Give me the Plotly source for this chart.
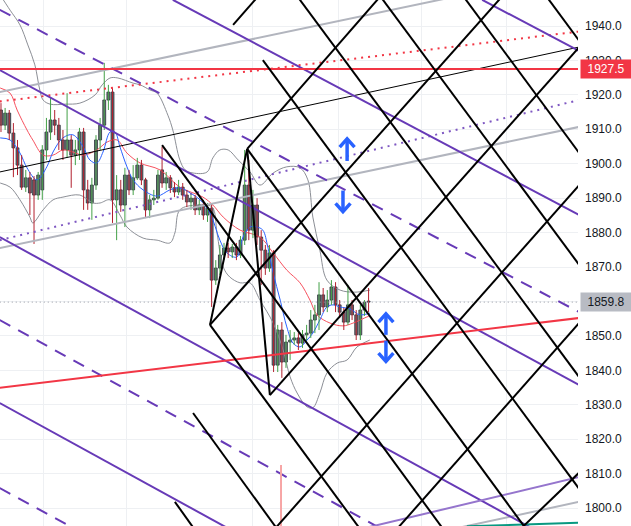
import plotly.graph_objects as go

# ---------------- candle data (bar index 0..89) ----------------
opens = [1915.6,1911.2,1914.7,1908.9,1904.6,1899.6,1893.2,1895.9,1895.3,1890.9,
         1892.4,1904.0,1909.2,1912.7,1911.2,1906.9,1904.0,1906.9,1902.5,1904.0,
         1909.2,1892.4,1888.6,1893.8,1906.9,1911.2,1918.5,1920.8,1889.5,1892.4,
         1888.0,1896.7,1892.4,1895.9,1899.6,1895.3,1886.6,1889.5,1890.0,1898.2,
         1894.4,1895.9,1893.0,1891.8,1893.2,1890.9,1888.9,1890.0,1886.6,1888.0,
         1885.1,1887.1,1866.2,1869.7,1873.5,1875.5,1874.4,1875.8,1873.5,1877.8,
         1893.8,1880.7,1888.0,1878.7,1874.9,1869.7,1874.1,1841.5,1851.7,1842.4,
         1848.2,1848.8,1849.4,1847.9,1850.3,1850.8,1854.6,1856.1,1861.9,1858.4,
         1860.4,1864.2,1859.0,1856.9,1854.0,1859.0,1856.1,1850.3,1857.5,1860.1]
closes = [1911.2,1914.7,1908.9,1904.6,1899.6,1893.2,1895.9,1891.5,1890.9,1896.7,
          1904.0,1909.2,1912.7,1911.2,1906.9,1904.0,1906.9,1902.5,1904.0,1909.2,
          1892.4,1888.6,1893.8,1906.9,1911.2,1918.5,1920.8,1889.5,1892.4,1888.0,
          1896.7,1892.4,1895.9,1899.6,1895.3,1886.6,1889.5,1890.0,1896.7,1894.4,
          1895.9,1893.0,1891.8,1893.2,1890.9,1888.9,1890.0,1886.6,1888.0,1885.1,
          1887.1,1866.2,1869.7,1873.5,1875.5,1874.4,1875.8,1873.5,1877.8,1893.8,
          1880.7,1888.0,1878.7,1874.9,1869.7,1874.1,1841.5,1851.7,1842.4,1848.2,
          1848.8,1849.4,1847.9,1850.3,1850.8,1854.6,1856.1,1861.9,1858.4,1860.4,
          1864.2,1859.0,1856.9,1854.0,1859.0,1856.1,1850.3,1857.5,1859.8,1859.8]
highs = [1917.6,1916.2,1915.6,1911.8,1906.9,1902.5,1898.2,1897.6,1896.4,1897.6,
         1905.4,1913.3,1919.4,1915.6,1913.3,1909.8,1920.5,1908.3,1906.9,1910.4,
         1910.4,1895.3,1895.9,1908.3,1913.3,1929.3,1922.9,1922.0,1896.7,1895.3,
         1898.8,1898.2,1899.6,1901.7,1901.1,1895.9,1890.9,1892.4,1898.2,1904.9,
         1897.6,1896.7,1894.7,1895.3,1894.4,1892.4,1891.5,1890.9,1889.5,1889.5,
         1888.6,1888.3,1872.0,1876.4,1877.0,1877.0,1876.7,1877.0,1879.0,1904.0,
         1901.1,1892.4,1890.0,1880.7,1876.4,1876.4,1874.9,1853.2,1854.0,1850.3,
         1851.7,1851.1,1850.8,1851.7,1853.2,1857.5,1859.0,1865.6,1863.9,1863.3,
         1866.2,1865.6,1860.4,1858.1,1864.8,1860.4,1857.5,1859.0,1860.4,1863.9]
lows = [1909.2,1909.8,1906.9,1896.1,1896.7,1892.4,1891.8,1885.1,1876.7,1889.5,
        1889.5,1901.1,1906.9,1908.3,1904.0,1901.1,1901.7,1893.0,1899.6,1901.1,
        1886.6,1886.6,1883.7,1892.4,1904.0,1909.8,1915.6,1882.8,1877.8,1886.0,
        1881.6,1890.9,1890.9,1895.3,1893.8,1884.2,1884.2,1888.0,1889.5,1893.0,
        1892.4,1891.5,1890.3,1890.9,1889.5,1887.4,1886.6,1885.1,1885.1,1883.7,
        1883.1,1858.4,1864.8,1867.7,1872.0,1872.6,1872.6,1872.0,1872.6,1876.4,
        1877.8,1878.4,1876.4,1864.8,1867.7,1868.6,1839.5,1839.5,1837.8,1840.7,
        1843.0,1847.4,1845.9,1846.5,1848.8,1849.4,1850.8,1851.7,1856.9,1856.9,
        1859.0,1856.9,1855.2,1851.7,1853.2,1854.6,1848.8,1848.8,1855.8,1856.9]

# ---------------- indicators ----------------
bb_upper_x = [-0.2,2.2,4.6,6.5,8.2,9.4,10.2,11.9,15.5,19.1,22.8,24.5,26.4,28.3,32.0,33.7,36.1,37.8,
              40.4,41.6,43.3,44.6,46.5,49.9,51.3,53.0,55.0,57.4,60.3,62.7,65.9,69.2,72.4,74.3,75.5,
              77.2,78.9,82.1,85.7,89.3]
bb_upper_y = [1949.0,1944.6,1940.3,1934.5,1928.7,1921.4,1918.5,1917.3,1917.3,1917.6,1920.0,1922.9,1924.9,
              1924.9,1923.4,1922.9,1921.4,1920.5,1914.1,1909.8,1901.1,1898.2,1897.3,1897.6,1901.7,1904.0,
              1904.0,1901.1,1897.6,1893.8,1897.3,1899.1,1898.8,1895.3,1884.5,1874.9,1866.2,1863.3,1862.7,1863.3]
bb_lower_x = [-0.2,2.2,4.6,7.0,7.7,10.2,12.6,15.0,19.1,22.3,24.0,26.4,28.8,30.5,34.4,37.8,40.9,42.1,43.3,
              47.5,51.1,52.3,53.8,55.4,57.9,60.3,62.7,65.9,68.3,70.0,71.7,74.1,75.5,77.2,78.9,81.4,83.8,86.2,89.3]
bb_lower_y = [1894.4,1893.2,1889.5,1884.5,1882.8,1886.6,1889.5,1890.3,1890.9,1888.6,1888.6,1889.5,1885.1,
              1881.6,1878.4,1877.8,1877.0,1879.9,1886.6,1888.0,1887.4,1879.9,1870.0,1867.1,1865.4,1865.4,
              1860.4,1853.7,1845.9,1838.1,1833.4,1829.4,1829.1,1833.4,1839.2,1842.1,1843.0,1846.8,1848.8]
ma_red_x = [-0.2,2.2,3.9,6.3,7.7,10.2,12.6,15.0,17.4,19.9,23.2,25.7,28.1,30.5,33.7,38.5,43.3,48.9,51.3,
            53.8,57.9,62.7,65.9,69.2,72.4,74.8,76.5,79.7,82.8,85.2,88.6,89.3]
ma_red_y = [1922.0,1920.5,1915.6,1909.8,1906.9,1902.5,1902.5,1904.0,1903.4,1902.5,1904.0,1906.3,1906.9,
            1903.1,1900.2,1898.2,1893.2,1890.3,1888.0,1884.5,1880.7,1878.7,1874.1,1869.1,1865.4,1860.4,
            1856.1,1853.7,1852.9,1853.7,1855.5,1855.8]
ma_blue_x = [-0.2,2.2,4.6,6.3,8.7,11.1,12.6,15.0,17.4,19.9,21.5,23.2,24.7,26.4,27.6,28.8,30.5,32.0,34.4,
             37.8,40.9,43.3,45.8,48.2,50.6,53.0,54.7,57.1,58.6,60.3,62.0,63.4,64.6,65.9,67.6,69.2,70.7,
             72.4,74.1,75.5,77.2,78.9,80.4,82.1,84.5,86.9,89.3]
ma_blue_y = [1907.5,1906.9,1903.1,1898.8,1895.3,1899.1,1903.4,1907.5,1908.4,1904.9,1901.1,1900.2,1903.4,
             1909.2,1909.2,1904.9,1899.1,1895.3,1892.4,1890.6,1892.4,1893.0,1891.5,1889.5,1885.7,1877.8,
             1874.1,1872.9,1878.7,1881.6,1881.6,1880.7,1875.8,1868.3,1860.4,1852.6,1847.9,1846.8,1848.8,
             1850.8,1854.6,1858.4,1859.0,1858.4,1857.8,1856.1,1856.6]

# ---------------- drawings: anchor points (bar index, price) ----------------
red_level = 1927.5
red_solid = [((-0.3, 1834.9), (140, 1855.2))]
red_dotted = [((-0.3, 1918.1), (140, 1938.4))]
black_thin = [((-0.3, 1897.6), (140, 1933.9))]
gray_lines = [((-0.3, 1920.8), (140, 1956.1)),
              ((-0.3, 1875.5), (140, 1910.7)),
              ((96.6, 1790.6), (140, 1801.8))]
purple_dotted = [((-0.3, 1877.8), (140, 1918.5))]
purple_solid = [((-0.3, 1927.2), (140, 1835.7)),
                ((41.6, 1947.6), (140, 1885.1)),
                ((116.5, 1947.6), (140, 1932.7)),
                ((-0.3, 1878.7), (140, 1786.6)),
                ((-0.3, 1830.5), (140, 1738.1))]
purple_dashed = [((-0.3, 1944.7), (140, 1856.9)),
                 ((-0.3, 1854.6), (140, 1762.5)),
                 ((-0.3, 1805.8), (140, 1714.6))]
light_purple = [((72.4, 1789.7), (140, 1809.0))]
teal_line = [((112.8, 1794.7), (140, 1795.7))]
volume_spike = [((67.8, 1812.5), (67.8, 1790.0))]
lattice_down = [((42.1, 1801.8), (48.7, 1790.7)),
                ((46.5, 1827.6), (68.8, 1790.7)),
                ((50.6, 1853.2), (88.9, 1790.7)),
                ((39.0, 1905.4), (109.0, 1790.7)),
                ((59.6, 1904.3), (129.1, 1790.7)),
                ((63.4, 1930.1), (142.6, 1801.3)),
                ((71.2, 1949.5), (142.6, 1833.8)),
                ((91.3, 1949.5), (142.6, 1866.4)),
                ((111.4, 1949.5), (142.6, 1898.9)),
                ((131.5, 1949.5), (142.6, 1931.5))]
lattice_up = [((56.2, 1940.3), (62.9, 1949.5)),
              ((59.6, 1904.3), (92.5, 1949.5)),
              ((50.6, 1853.2), (122.0, 1949.5)),
              ((65.1, 1832.8), (142.6, 1937.4)),
              ((63.9, 1790.7), (142.6, 1897.3)),
              ((93.5, 1790.7), (142.6, 1857.3)),
              ((123.0, 1790.7), (142.6, 1813.3))]
pattern = [((50.6, 1853.2), (59.6, 1904.3)),
           ((59.6, 1904.3), (65.1, 1832.8))]
# blue arrows: (bar index, tail price, tip price)
arrows = [(83.8, 1900.8, 1907.2), (82.8, 1892.2, 1886.1),
          (93.2, 1850.3, 1856.4), (93.2, 1848.6, 1842.6)]
arrow_head_half_width = 1.8   # in bars
arrow_head_depth = 2.4        # in price units
time_grid = [10.2, 30.5, 61.0, 81.6, 101.9, 122.5]
price_ticks = list(range(1800, 1941, 10))

fig = go.Figure()


def add_segments(segs, color, width, dash=None, opacity=1.0):
    xs, ys = [], []
    for (x0, y0), (x1, y1) in segs:
        xs += [x0, x1, None]
        ys += [y0, y1, None]
    fig.add_trace(go.Scatter(x=xs, y=ys, mode="lines", opacity=opacity,
                             line=dict(color=color, width=width, dash=dash),
                             hoverinfo="skip", showlegend=False))


# indicators
for xs_, ys_, col in [(bb_upper_x, bb_upper_y, "#8c8f96"), (bb_lower_x, bb_lower_y, "#8c8f96"),
                      (ma_red_x, ma_red_y, "#f7525f"), (ma_blue_x, ma_blue_y, "#2962ff")]:
    fig.add_trace(go.Scatter(x=xs_, y=ys_, mode="lines", line=dict(color=col, width=1),
                             line_shape="spline", hoverinfo="skip", showlegend=False))

# candles: coloured wicks, grey bodies
n = len(closes)
idx = list(range(n))
ux, uy, dx, dy = [], [], [], []
for i in idx:
    if closes[i] >= opens[i]:
        ux += [i, i, None]; uy += [lows[i], highs[i], None]
    else:
        dx += [i, i, None]; dy += [lows[i], highs[i], None]
fig.add_trace(go.Scatter(x=ux, y=uy, mode="lines", line=dict(color="#43a047", width=1),
                         hoverinfo="skip", showlegend=False))
fig.add_trace(go.Scatter(x=dx, y=dy, mode="lines", line=dict(color="#b2202e", width=1),
                         hoverinfo="skip", showlegend=False))
body_base = [min(o, c) for o, c in zip(opens, closes)]
body_h = [max(abs(c - o), 0.25) for o, c in zip(opens, closes)]
fig.add_trace(go.Bar(x=idx, y=body_h, base=body_base, width=0.7,
                     marker=dict(color="#6b6e76", line=dict(color="#2a2e39", width=0.8)),
                     hoverinfo="skip", showlegend=False))

# last price dotted line
fig.add_trace(go.Scatter(x=[-0.3, 140], y=[closes[-1], closes[-1]], mode="lines",
                         line=dict(color="#9598a1", width=1, dash="1px,3px"),
                         hoverinfo="skip", showlegend=False))

# drawings
add_segments(gray_lines, "#b2b5be", 2)
add_segments(purple_dotted, "#7e57c2", 2, "2px,5px")
add_segments(red_dotted, "#f23645", 2, "2px,5px")
add_segments(black_thin, "#000000", 1)
add_segments(purple_dashed, "#673ab7", 2, "12px,9px")
add_segments(purple_solid, "#673ab7", 2)
add_segments(light_purple, "#9575cd", 2)
add_segments(teal_line, "#089981", 2)
add_segments(volume_spike, "#f7a5a5", 2)
add_segments(red_solid, "#f23645", 2)
add_segments([((-0.3, red_level), (140, red_level))], "#f23645", 2)
add_segments(lattice_down, "#000000", 2)
add_segments(lattice_up, "#000000", 2)
add_segments(pattern, "#000000", 2)

# blue chevron arrows (shaft + open head)
ax_, ay_ = [], []
for xa, tail, tip in arrows:
    d = 1 if tip > tail else -1
    back = tip - d * arrow_head_depth
    ax_ += [xa, xa, None,
            xa - arrow_head_half_width, xa, xa + arrow_head_half_width, None]
    ay_ += [tail, tip, None, back, tip, back, None]
fig.add_trace(go.Scatter(x=ax_, y=ay_, mode="lines", line=dict(color="#2962ff", width=3.5),
                         hoverinfo="skip", showlegend=False))

annotations = [
    dict(x=1.0035, y=red_level, xref="paper", yref="y", xanchor="left", yanchor="middle",
         text="1927.5", showarrow=False, bgcolor="#f23645", width=46, borderpad=2,
         font=dict(color="white", size=12, family="Liberation Sans")),
    dict(x=1.0035, y=closes[-1], xref="paper", yref="y", xanchor="left", yanchor="middle",
         text=f"{closes[-1]:.1f}", showarrow=False, bgcolor="#b8bbc3", width=46, borderpad=2,
         font=dict(color="#131722", size=12, family="Liberation Sans")),
]

# the 1860 tick sits under the last-price label, as on the source chart
tick_text = ["" if v == 1860 else f"{v:.1f}" for v in price_ticks]

fig.update_layout(
    width=631, height=526,
    margin=dict(l=0, r=53, t=0, b=0),
    paper_bgcolor="white", plot_bgcolor="white",
    showlegend=False, barmode="overlay",
    annotations=annotations,
    font=dict(family="Liberation Sans", size=12, color="#131722"),
    xaxis=dict(range=[-0.24, 139.7], tickvals=time_grid, showticklabels=False, ticks="",
               showgrid=True, gridcolor="#eef0f3", gridwidth=1, zeroline=False, showline=False,
               fixedrange=True),
    yaxis=dict(range=[1794.78, 1947.55], side="right", tickvals=price_ticks,
               ticktext=tick_text, ticks="", ticklabelstandoff=6,
               showgrid=True, gridcolor="#eef0f3", gridwidth=1, zeroline=False, showline=False,
               tickfont=dict(size=12, color="#131722"), fixedrange=True),
)

fig.write_html("out.html", config={"displayModeBar": False},
               post_script="document.body.style.margin='0px';")
